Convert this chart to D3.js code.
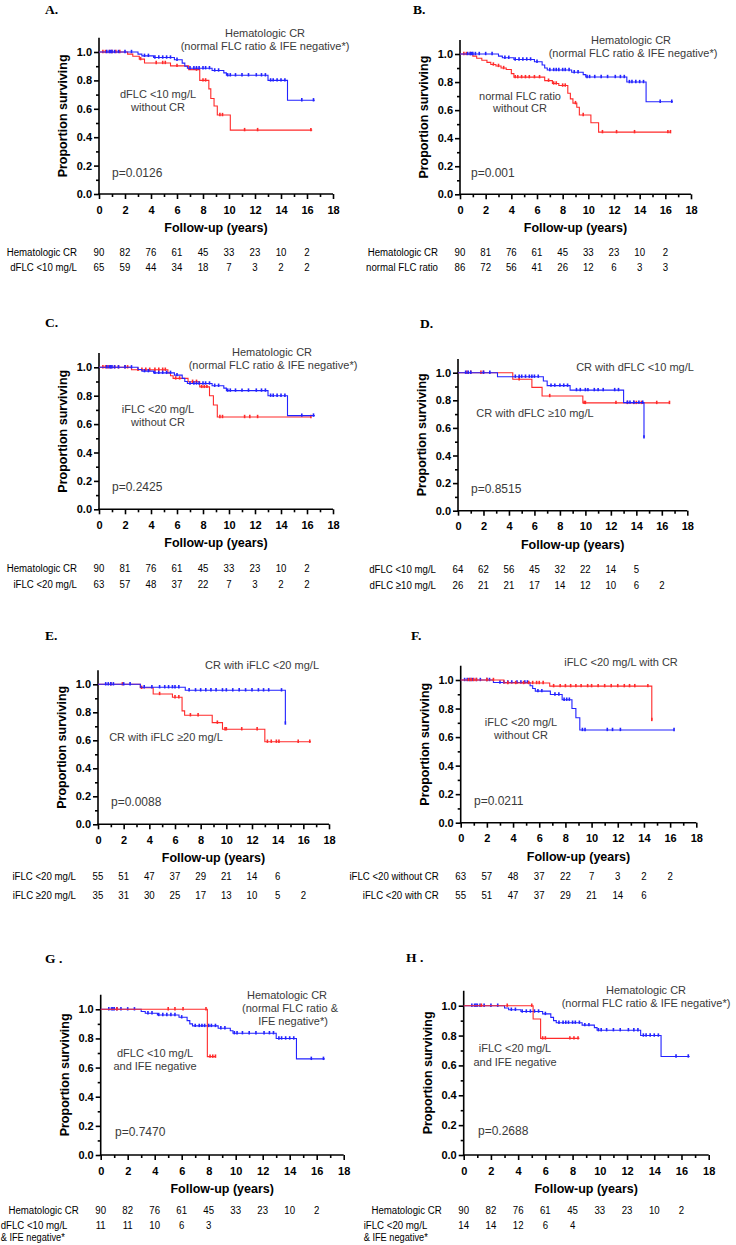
<!DOCTYPE html>
<html><head><meta charset="utf-8">
<script src="https://cdn.jsdelivr.net/npm/d3@7"></script>
<style>body{margin:0;background:#fff}svg{display:block}</style>
</head><body>
<svg id="c" width="736" height="1245"></svg>
<script>
// ---------------- DATA ----------------
const riskYears = [0,2,4,6,8,10,12,14,16];
const xTicks = [0,2,4,6,8,10,12,14,16,18];
const yTicks = [0,0.2,0.4,0.6,0.8,1.0];

// Hematologic CR (normal FLC ratio & IFE negative)
const hemCR_steps = [[0,1],[3.0,0.985],[3.3,0.973],[4.2,0.961],[5.8,0.945],[6.4,0.922],[6.6,0.90],[6.8,0.886],[8.7,0.87],[9.6,0.853],[9.8,0.836],[13.0,0.80],[14.5,0.66]];
const hemCR_end = 16.6;
const hemCR_cens = [0.6,0.8,0.9,1.0,1.2,1.5,2.0,2.5,3.5,3.8,4.3,4.6,4.9,5.2,5.5,6.0,7.0,7.3,7.5,7.7,8.0,8.2,8.5,8.9,9.2,9.9,10.1,10.5,11.0,11.5,12.1,12.5,12.8,13.2,13.4,13.7,14.0,14.3,15.6,16.5];

// dFLC <10 mg/L without CR
const dflcNoCR_steps = [[0,1],[2.2,0.985],[2.6,0.97],[3.1,0.95],[3.5,0.923],[5.5,0.902],[6.9,0.876],[7.75,0.80],[8.45,0.74],[8.6,0.673],[8.85,0.62],[9.1,0.556],[10.1,0.45]];
const dflcNoCR_end = 16.4;
const dflcNoCR_cens = [0.3,0.5,0.8,1.0,1.3,1.6,3.2,4.4,4.9,5.1,6.0,7.5,8.0,8.2,9.3,9.5,11.2,12.2,16.3];

// normal FLC ratio without CR
const nflrNoCR_steps = [[0,1],[1.0,0.985],[1.3,0.97],[1.7,0.955],[2.1,0.94],[2.4,0.925],[2.8,0.915],[3.2,0.90],[3.6,0.89],[4.0,0.86],[4.2,0.835],[6.6,0.81],[7.2,0.79],[7.7,0.775],[8.4,0.72],[8.6,0.68],[8.8,0.65],[9.1,0.62],[9.3,0.565],[10.2,0.51],[10.8,0.443]];
const nflrNoCR_end = 16.4;
const nflrNoCR_cens = [0.3,0.5,0.8,2.6,3.0,3.4,4.3,4.5,4.8,5.1,5.4,5.8,6.2,6.9,7.3,7.5,8.0,8.2,9.0,9.6,11.1,12.2,13.6,16.2,16.4];

// iFLC <20 mg/L without CR
const iflcNoCR_steps = [[0,1],[2.5,0.983],[5.3,0.96],[5.5,0.94],[5.7,0.922],[6.85,0.898],[7.75,0.862],[8.5,0.80],[8.8,0.735],[9.1,0.65]];
const iflcNoCR_end = 16.3;
const iflcNoCR_cens = [0.3,0.5,0.7,0.9,1.2,1.5,2.0,2.2,3.0,3.3,3.6,3.9,4.3,4.6,4.9,5.1,5.9,6.2,7.2,7.5,7.9,8.1,8.3,9.3,9.5,11.2,11.6,12.2,16.3];

// CR with dFLC <10 mg/L
const crDlo_steps = [[0,1],[3.1,0.971],[6.7,0.94],[7.0,0.906],[8.8,0.874],[13.0,0.783],[14.6,0.531]];
const crDlo_end = 14.6;
const crDlo_cens = [0.6,0.8,1.0,2.0,2.5,4.5,4.8,5.0,5.3,5.6,5.8,6.0,6.3,7.3,7.6,8.0,8.3,8.6,9.3,9.6,10.0,10.2,10.7,11.0,11.4,12.3,12.6,13.3,13.5,13.8,14.2,14.5,14.6];

// CR with dFLC >=10 mg/L
const crDhi_steps = [[0,1],[4.3,0.952],[5.8,0.894],[6.6,0.831],[9.8,0.781]];
const crDhi_end = 16.6;
const crDhi_cens = [0.7,1.0,1.8,2.0,4.8,7.2,9.9,10.0,12.4,13.3,13.8,14.0,14.4,15.6,16.6];

// CR with iFLC <20 mg/L
const crIlo_steps = [[0,1],[3.3,0.979],[6.8,0.957],[14.6,0.72]];
const crIlo_end = 14.6;
const crIlo_cens = [0.6,0.8,1.0,1.2,2.0,2.5,3.6,4.2,4.8,5.2,5.5,5.8,6.0,6.3,7.1,7.6,8.0,8.4,8.8,9.2,9.7,10.0,10.5,11.0,11.5,12.0,12.5,12.9,13.3,14.3,14.6];

// CR with iFLC >=20 mg/L
const crIhi_steps = [[0,1],[3.3,0.975],[4.3,0.931],[5.8,0.907],[6.55,0.81],[6.75,0.779],[8.9,0.726],[9.7,0.679],[13.0,0.59]];
const crIhi_end = 16.6;
const crIhi_cens = [1.0,1.9,3.4,4.8,6.0,6.3,7.2,7.8,9.3,9.9,10.0,11.2,12.4,13.2,13.5,13.9,14.1,15.6,16.5];

// dFLC <10 mg/L and IFE negative
const dflcIFE_steps = [[0,1],[7.9,0.675]];
const dflcIFE_end = 8.5;
const dflcIFE_cens = [1.2,5.0,5.5,6.1,7.8,8.1,8.3,8.5];

// iFLC <20 mg/L and IFE negative
const iflcIFE_steps = [[0,1],[5.1,0.911],[5.65,0.781]];
const iflcIFE_end = 8.5;
const iflcIFE_cens = [1.3,3.2,5.0,5.8,6.0,7.8,8.1,8.4];

// Numbers at risk
const riskA1 = [90,82,76,61,45,33,23,10,2], riskA2 = [65,59,44,34,18,7,3,2,2];
const riskB1 = [90,81,76,61,45,33,23,10,2], riskB2 = [86,72,56,41,26,12,6,3,3];
const riskC1 = [90,81,76,61,45,33,23,10,2], riskC2 = [63,57,48,37,22,7,3,2,2];
const riskD1 = [64,62,56,45,32,22,14,5],    riskD2 = [26,21,21,17,14,12,10,6,2];
const riskE1 = [55,51,47,37,29,21,14,6],    riskE2 = [35,31,30,25,17,13,10,5,2];
const riskF1 = [63,57,48,37,22,7,3,2,2],    riskF2 = [55,51,47,37,29,21,14,6];
const riskG1 = [90,82,76,61,45,33,23,10,2], riskG2 = [11,11,10,6,3];
const riskH1 = [90,82,76,61,45,33,23,10,2], riskH2 = [14,14,12,6,4];

const pValues = ["p=0.0126","p=0.001","p=0.2425","p=0.8515","p=0.0088","p=0.0211","p=0.7470","p=0.2688"];

// ---------------- LAYOUT ----------------
const BLUE = "#2222ff", RED = "#ff2a2a";
const curve = (s,e,c,col)=>({s,e,c,col});
const panels = [
 {lab:"A.", lx:45, ly:14, x0:99, x1:333, yz:194, yo:52, rk:[58,73],
  curves:[curve(dflcNoCR_steps,dflcNoCR_end,dflcNoCR_cens,RED), curve(hemCR_steps,hemCR_end,hemCR_cens,BLUE)],
  notes:[["Hematologic CR",265,33],["(normal FLC ratio & IFE negative*)",265,46],["dFLC <10 mg/L",158,94],["without CR",158,107]],
  p:[pValues[0],112,173], risk:[["Hematologic CR",riskA1],["dFLC <10 mg/L",riskA2]]},
 {lab:"B.", lx:413, ly:14, x0:460, x1:691, yz:194.3, yo:54, rk:[58,73],
  curves:[curve(nflrNoCR_steps,nflrNoCR_end,nflrNoCR_cens,RED), curve(hemCR_steps,hemCR_end,hemCR_cens,BLUE)],
  notes:[["Hematologic CR",631,40],["(normal FLC ratio & IFE negative*)",633,53],["normal FLC ratio",520,96],["without CR",520,108]],
  p:[pValues[1],471,173], risk:[["Hematologic CR",riskB1],["normal FLC ratio",riskB2]]},
 {lab:"C.", lx:45, ly:327, x0:99, x1:333, yz:509.3, yo:367.3, rk:[59,75],
  curves:[curve(iflcNoCR_steps,iflcNoCR_end,iflcNoCR_cens,RED), curve(hemCR_steps,hemCR_end,hemCR_cens,BLUE)],
  notes:[["Hematologic CR",272,352],["(normal FLC ratio & IFE negative*)",273,365],["iFLC <20 mg/L",158,409],["without CR",158,422]],
  p:[pValues[2],112,487], risk:[["Hematologic CR",riskC1],["iFLC <20 mg/L",riskC2]]},
 {lab:"D.", lx:420, ly:328, x0:458, x1:687.3, yz:510.7, yo:372.7, rk:[58,74],
  curves:[curve(crDhi_steps,crDhi_end,crDhi_cens,RED), curve(crDlo_steps,crDlo_end,crDlo_cens,BLUE)],
  notes:[["CR with dFLC <10 mg/L",635,367],["CR with dFLC \u226510 mg/L",535,413]],
  p:[pValues[3],471,489], risk:[["dFLC <10 mg/L",riskD1],["dFLC \u226510 mg/L",riskD2]]},
 {lab:"E.", lx:45, ly:640, x0:98, x1:329, yz:824.3, yo:684.3, rk:[52,71],
  curves:[curve(crIhi_steps,crIhi_end,crIhi_cens,RED), curve(crIlo_steps,crIlo_end,crIlo_cens,BLUE)],
  notes:[["CR with iFLC <20 mg/L",262,665],["CR with iFLC \u226520 mg/L",166,737]],
  p:[pValues[4],111,802], risk:[["iFLC <20 mg/L",riskE1],["iFLC \u226520 mg/L",riskE2]]},
 {lab:"F.", lx:411, ly:640, x0:460.7, x1:696.3, yz:822.7, yo:680, rk:[53,72],
  curves:[curve(iflcNoCR_steps,iflcNoCR_end,iflcNoCR_cens,BLUE), curve(crIlo_steps,crIlo_end,crIlo_cens,RED)],
  notes:[["iFLC <20 mg/L with CR",621,662],["iFLC <20 mg/L",521,722],["without CR",521,735]],
  p:[pValues[5],474,801], risk:[["iFLC <20 without CR",riskF1],["iFLC <20 with CR",riskF2]]},
 {lab:"G .", lx:45, ly:963, x0:100.7, x1:343.7, yz:1155, yo:1009.3, rk:[55,70],
  curves:[curve(hemCR_steps,hemCR_end,hemCR_cens,BLUE), curve(dflcIFE_steps,dflcIFE_end,dflcIFE_cens,RED)],
  notes:[["Hematologic CR",287,995],["(normal FLC ratio &",290,1008],["IFE negative*)",293,1021],["dFLC <10 mg/L",155,1053],["and IFE negative",155,1066]],
  p:[pValues[6],115,1132], risk:[["Hematologic CR",riskG1],["dFLC <10 mg/L",riskG2,"& IFE negative*"]], leftRisk:true},
 {lab:"H .", lx:406, ly:962, x0:463.7, x1:708.7, yz:1155, yo:1005.7, rk:[55,70],
  curves:[curve(hemCR_steps,hemCR_end,hemCR_cens,BLUE), curve(iflcIFE_steps,iflcIFE_end,iflcIFE_cens,RED)],
  notes:[["Hematologic CR",646,990],["(normal FLC ratio & IFE negative*)",646,1003],["iFLC <20 mg/L",515,1048],["and IFE negative",515,1062]],
  p:[pValues[7],478,1131], risk:[["Hematologic CR",riskH1],["iFLC <20 mg/L",riskH2,"& IFE negative*"]], leftRisk:true}
];

// ---------------- DRAW ----------------
const svg = d3.select("#c");
const SANS = "'Liberation Sans', Arial, Helvetica, sans-serif";
const SX = 0.84; // condensed look for numbers-at-risk table

function stepAt(steps,t){ let v=steps[0][1]; for(const [tt,s] of steps){ if(tt<=t) v=s; } return v; }

panels.forEach(P=>{
  const g = svg.append("g");
  const x = d3.scaleLinear().domain([0,18]).range([P.x0,P.x1]);
  const yTop = P.yz - 1.1*(P.yz-P.yo);
  const y = d3.scaleLinear().domain([0,1.1]).range([P.yz,yTop]);

  // panel letter
  g.append("text").attr("x",P.lx).attr("y",P.ly).text(P.lab)
   .attr("font-family","'Liberation Serif','Times New Roman',serif").attr("font-weight","bold").attr("font-size",13.5);

  // axes
  const ax = g.append("g").attr("transform",`translate(0,${P.yz})`)
   .call(d3.axisBottom(x).tickValues(xTicks).tickSize(5).tickSizeOuter(0).tickPadding(7));
  const axm = g.append("g").attr("transform",`translate(0,${P.yz})`)
   .call(d3.axisBottom(x).tickValues(d3.range(1,18,2)).tickSize(3).tickFormat(""));
  axm.select(".domain").remove();
  const ay = g.append("g").attr("transform",`translate(${P.x0},0)`)
   .call(d3.axisLeft(y).tickValues(yTicks).tickFormat(d3.format(".1f")).tickSize(5).tickSizeOuter(0).tickPadding(2));
  const aym = g.append("g").attr("transform",`translate(${P.x0},0)`)
   .call(d3.axisLeft(y).tickValues([0.1,0.3,0.5,0.7,0.9]).tickSize(3).tickFormat(""));
  aym.select(".domain").remove();
  [ax,axm,ay,aym].forEach(a=>{
    a.selectAll("path,line").attr("stroke","#000").attr("stroke-width",1.6);
    a.selectAll("text").attr("font-family",SANS).attr("font-weight","bold").attr("font-size",11).attr("fill","#000");
  });
  ay.select(".domain").attr("d",`M0,${P.yz+0.8}V${yTop}`);
  ax.select(".domain").attr("d",`M${P.x0-0.8},0H${P.x1}`);

  // axis titles
  g.append("text").attr("x",(P.x0+P.x1)/2).attr("y",P.yz+38).attr("text-anchor","middle")
   .attr("font-family",SANS).attr("font-weight","bold").attr("font-size",12.5).text("Follow-up (years)");
  g.append("text").attr("transform",`translate(${P.x0-32},${(P.yz+yTop)/2}) rotate(-90)`).attr("text-anchor","middle")
   .attr("font-family",SANS).attr("font-weight","bold").attr("font-size",12.5).text("Proportion surviving");

  // curves
  P.curves.forEach(C=>{
    const pts = C.s.concat([[C.e, C.s[C.s.length-1][1]]]);
    g.append("path").datum(pts)
     .attr("d",d3.line().x(d=>x(d[0])).y(d=>y(d[1])).curve(d3.curveStepAfter))
     .attr("fill","none").attr("stroke",C.col).attr("stroke-width",1.1);
    g.selectAll(null).data(C.c).enter().append("line")
     .attr("x1",d=>x(d)).attr("x2",d=>x(d))
     .attr("y1",d=>y(stepAt(C.s,d))-2.2).attr("y2",d=>y(stepAt(C.s,d))+1.2)
     .attr("stroke",C.col).attr("stroke-width",1.6);
  });

  // annotations
  P.notes.forEach(n=>{
    g.append("text").attr("x",n[1]).attr("y",n[2]).attr("dy","0.35em").attr("text-anchor","middle")
     .attr("font-family",SANS).attr("font-size",11).attr("fill","#3a3a3a").text(n[0]);
  });
  g.append("text").attr("x",P.p[1]).attr("y",P.p[2]).attr("dy","0.35em")
   .attr("font-family",SANS).attr("font-size",12).attr("fill","#3a3a3a").text(P.p[0]);

  // numbers at risk (horizontally condensed group)
  const rg = g.append("g").attr("transform",`scale(${SX},1)`);
  P.risk.forEach((r,i)=>{
    const ry = P.yz + P.rk[i];
    const lt = rg.append("text").attr("y",ry).attr("dy","0.35em")
      .attr("font-family",SANS).attr("font-size",11.5).attr("fill","#000").text(r[0]);
    if(P.leftRisk && i>0){ lt.attr("x",(P.x0-100)/SX); }
    else { lt.attr("x",(P.x0-22)/SX).attr("text-anchor","end"); }
    if(r[2]) rg.append("text").attr("x",(P.x0-100)/SX).attr("y",ry+12).attr("dy","0.35em")
      .attr("font-family",SANS).attr("font-size",11).attr("fill","#000").text(r[2]);
    rg.selectAll(null).data(r[1]).enter().append("text")
     .attr("x",(d,j)=>x(riskYears[j])/SX).attr("y",ry).attr("dy","0.35em").attr("text-anchor","middle")
     .attr("font-family",SANS).attr("font-size",11.5).attr("fill","#000").text(d=>d);
  });
});
</script>
</body></html>
